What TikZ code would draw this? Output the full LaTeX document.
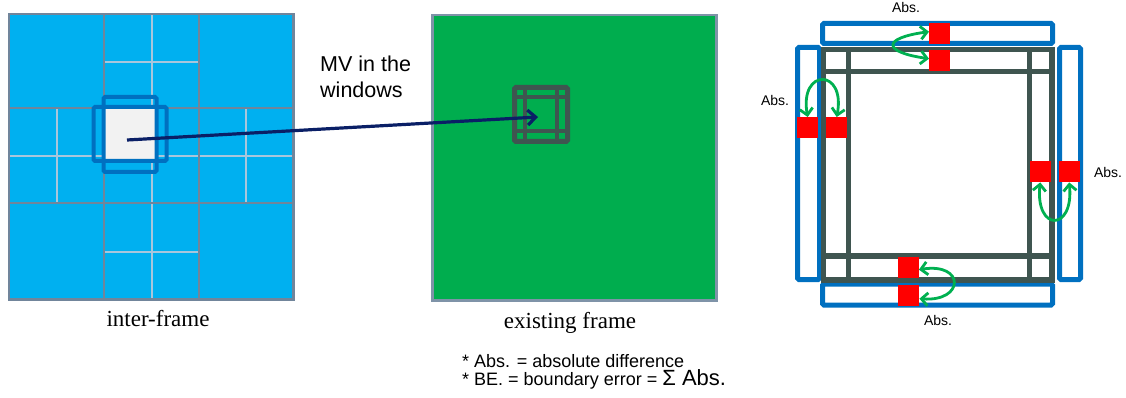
\documentclass[tikz,border=0pt]{standalone}
\usepackage{fontspec}
\setmainfont{Liberation Serif}
\newfontfamily\arialfont{Liberation Sans}
\usetikzlibrary{arrows.meta}

\definecolor{skyfill}{HTML}{00B0F0}
\definecolor{gridDark}{HTML}{71859B}
\definecolor{gridLight}{HTML}{A9C6DC}
\definecolor{blockWhite}{HTML}{F2F2F2}
\definecolor{winBlue}{HTML}{0070C0}
\definecolor{panelGreen}{HTML}{00AD4E}
\definecolor{frameGray}{HTML}{7F93A8}
\definecolor{slate}{HTML}{3F5550}
\definecolor{navy}{HTML}{0A1F66}
\definecolor{pixRed}{HTML}{FF0000}
\definecolor{arrowGreen}{HTML}{00B050}

\tikzset{
  lightline/.style={draw=gridLight, line width=2},
  darkline/.style={draw=gridDark, line width=2.5},
  winline/.style={draw=winBlue, line width=4, rounded corners=1.5},
  bluebox/.style={draw=winBlue, line width=5, rounded corners=1.5},
  slateline/.style={draw=slate, line width=5.5},
  pixel/.style={fill=pixRed, inner sep=0, minimum width=21, minimum height=21},
  swap/.style={draw=arrowGreen, line width=2.8,
    arrows={Straight Barb[length=6.5pt,width=13pt]-Straight Barb[length=6.5pt,width=13pt]}},
  mvarrow/.style={draw=navy, line width=3.2, -{Straight Barb[length=8pt,width=15pt]}},
  abslabel/.style={font=\arialfont\fontsize{14}{14}\selectfont, inner sep=0},
  caption/.style={font=\fontsize{23}{23}\selectfont, inner sep=0, anchor=base},
  sanslabel/.style={font=\arialfont\fontsize{21.5}{21.5}\selectfont, inner sep=0, anchor=base west},
  notelabel/.style={font=\arialfont\fontsize{18}{18}\selectfont, inner sep=0, anchor=base west}
}

\begin{document}
\begin{tikzpicture}[x=1pt,y=-1pt]
\useasboundingbox (0,0) rectangle (1126,398);

% ---------- inter-frame with its block partition ----------
\node[fill=skyfill, inner sep=0, minimum width=284, minimum height=285, anchor=north west] (inter) at (9,14) {};
\draw[lightline] (152,14) -- (152,299);
\draw[lightline] (9,156) -- (293,156);
\draw[lightline] (104,62) -- (199,62);
\draw[lightline] (104,252) -- (199,252);
\draw[lightline] (57,108) -- (57,203);
\draw[lightline] (246,108) -- (246,203);
\draw[darkline] (104,14) -- (104,299);
\draw[darkline] (199,14) -- (199,299);
\draw[darkline] (9,108) -- (293,108);
\draw[darkline] (9,203) -- (293,203);
\draw[darkline] (inter.north west) rectangle (inter.south east);

% current block and its boundary windows
\node[fill=blockWhite, inner sep=0, minimum width=52, minimum height=52] (blk) at (130,134) {};
\draw[winline] (103.5,97) rectangle (156.5,172);
\draw[winline] (93.5,107) rectangle (166.5,161);

\node[caption] (cap1) at (158,326) {inter-frame};

% ---------- existing frame ----------
\node[fill=panelGreen, draw=frameGray, line width=2.5, inner sep=0, minimum width=284, minimum height=285, anchor=north west] (exist) at (431,14) {};
\node[inner sep=0, minimum width=58, minimum height=59] (win) at (541,114.5) {};
\draw[draw=slate, line width=5, rounded corners=1.5] (514.5,87.5) rectangle (567.5,141.5);
\draw[draw=slate, line width=4.5] (525,85) -- (525,144);
\draw[draw=slate, line width=4.5] (557,85) -- (557,144);
\draw[draw=slate, line width=4.5] (512,97) -- (570,97);
\draw[draw=slate, line width=4.5] (512,131) -- (570,131);

\node[caption] (cap2) at (570,328) {existing frame};

% motion vector pointing into the window
\coordinate (mvs) at (127,140);
\coordinate (mve) at (538,117);
\draw[mvarrow] (mvs) -- (mve);

\node[sanslabel] (mv1) at (320,72) {MV in the};
\node[sanslabel] (mv2) at (320,98) {windows};

% ---------- notes ----------
\node[notelabel] (note1) at (462,367) {* Abs. = absolute difference};
\node[notelabel] (note2) at (462,385) {* BE. = boundary error = {\fontsize{22}{22}\selectfont Σ Abs.}};

% ---------- boundary matching detail ----------
\draw[bluebox] (822.5,23.5) rectangle (1052.5,43.5);
\draw[bluebox] (822.5,284) rectangle (1052.5,305);
\draw[bluebox] (797.5,47.5) rectangle (819.5,279.5);
\draw[bluebox] (1059.5,47.5) rectangle (1080.5,279.5);

\draw[slateline] (823.5,49.5) rectangle (1052,280);
\draw[slateline] (848.5,49.5) -- (848.5,280);
\draw[slateline] (1029.5,49.5) -- (1029.5,280);
\draw[slateline] (823.5,71.5) -- (1052,71.5);
\draw[slateline] (823.5,256) -- (1052,256);

\node[pixel, anchor=north west] (t1) at (929,23) {};
\node[pixel, anchor=north west] (t2) at (929,50) {};
\node[pixel, anchor=north west] (l1) at (797,117) {};
\node[pixel, anchor=north west] (l2) at (826,117) {};
\node[pixel, anchor=north west] (r1) at (1029.5,161) {};
\node[pixel, anchor=north west] (r2) at (1058.5,161) {};
\node[pixel, anchor=north west] (b1) at (897.5,257) {};
\node[pixel, anchor=north west] (b2) at (898,285) {};

\draw[swap] ([yshift=2pt]t1.west) .. controls (882,38) and (882,52) .. ([yshift=2pt]t2.west);
\draw[swap] (l1.north) .. controls (799,68) and (846,68) .. (l2.north);
\draw[swap] (r1.south) .. controls (1035,232) and (1074,232) .. (r2.south);
\draw[swap] ([yshift=-2pt]b1.east) .. controls (965,262) and (965,302) .. ([yshift=-3pt]b2.east);

\node[abslabel] (a1) at (906,7) {Abs.};
\node[abslabel] (a2) at (775,100) {Abs.};
\node[abslabel] (a3) at (1108,172) {Abs.};
\node[abslabel] (a4) at (938,320) {Abs.};
\end{tikzpicture}
\end{document}
